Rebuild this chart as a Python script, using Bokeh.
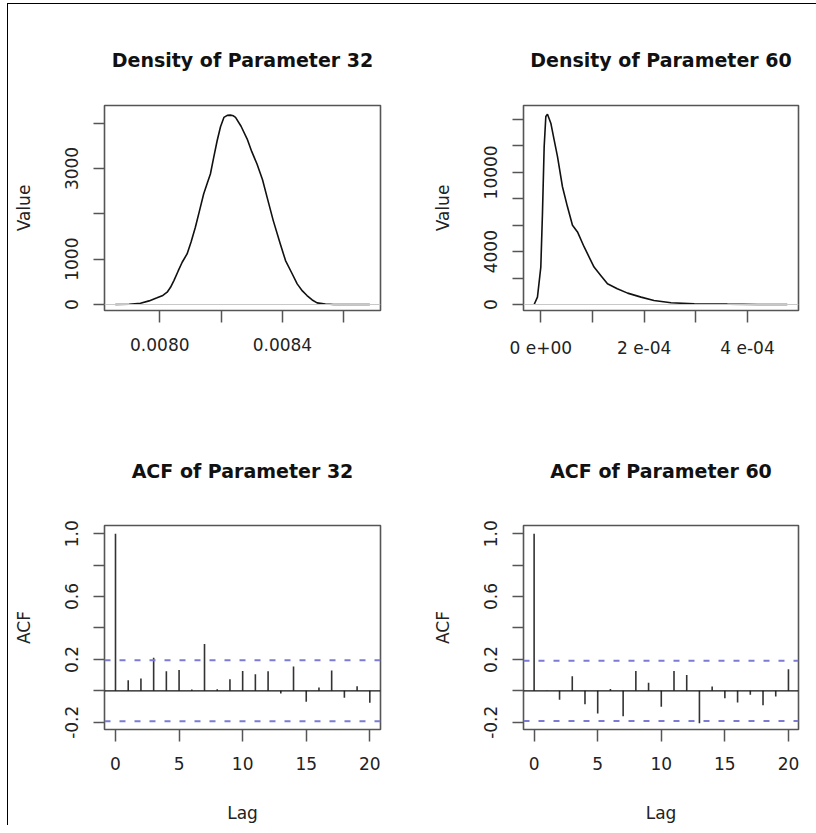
from bokeh.plotting import figure
from bokeh.models import FixedTicker, Span, Range1d
from bokeh.layouts import column, row
from bokeh.embed import file_html
from bokeh.resources import INLINE

# ---------------- data ----------------
dens32_x = [0.007855, 0.007900, 0.007937, 0.007965, 0.007991, 0.008010, 0.008024, 0.008035,
            0.008046, 0.008060, 0.008073, 0.008089, 0.008102, 0.008116, 0.008130, 0.008143,
            0.008155, 0.008165, 0.008176, 0.008187, 0.008198, 0.008209, 0.008220, 0.008230,
            0.008240, 0.008247, 0.008265, 0.008285, 0.008300, 0.008317, 0.008335, 0.008350,
            0.008370, 0.008393, 0.008410, 0.008430, 0.008448, 0.008465, 0.008480, 0.008497,
            0.008513, 0.008540, 0.008567, 0.008620, 0.008685]
dens32_y = [0, 5, 29, 80, 147, 200, 272, 380,
            528, 740, 932, 1116, 1380, 1703, 2080, 2437,
            2680, 2877, 3250, 3611, 3920, 4125, 4170, 4176,
            4160, 4125, 3930, 3648, 3370, 3097, 2750, 2363,
            1850, 1336, 969, 700, 455, 300, 198, 100,
            37, 10, 0, 0, 0]

dens60_x = [-1.29e-5, -6.5e-6, 0.0, 3.2e-6, 6.5e-6, 9.7e-6, 1.29e-5, 1.94e-5, 2.58e-5,
            3.23e-5, 4.19e-5, 5.16e-5, 6.13e-5, 7.10e-5, 8.39e-5, 1.03e-4, 1.16e-4,
            1.29e-4, 1.48e-4, 1.68e-4, 1.94e-4, 2.19e-4, 2.52e-4, 2.97e-4, 3.61e-4,
            4.2e-4, 4.77e-4]
dens60_y = [0, 557, 2835, 6886, 11949, 14228, 14405, 13722, 12456,
            11190, 8911, 7392, 6000, 5494, 4354, 2835, 2203,
            1570, 1190, 861, 557, 304, 127, 51, 25,
            5, 0]

lags = list(range(21))
acf32 = [1.0, 0.067, 0.078, 0.21, 0.124, 0.132, 0.008, 0.298, 0.010, 0.074, 0.126,
         0.105, 0.124, -0.017, 0.155, -0.069, 0.021, 0.130, -0.044, 0.029, -0.076]
acf60 = [1.0, 0.002, -0.057, 0.093, -0.085, -0.144, 0.011, -0.161, 0.127, 0.051, -0.101,
         0.127, 0.101, -0.207, 0.027, -0.047, -0.074, -0.025, -0.091, -0.036, 0.137]
clim32 = 0.194
clim60 = 0.192

titles = ["Density of Parameter 32", "Density of Parameter 60",
          "ACF of Parameter 32", "ACF of Parameter 60"]

d32_xticks = [0.0080, 0.0082, 0.0084, 0.0086]
d32_xlabels = {0.0080: "0.0080", 0.0082: "", 0.0084: "0.0084", 0.0086: ""}
d32_yticks = [0, 1000, 2000, 3000, 4000]
d32_ylabels = {0: "0", 1000: "1000", 2000: "", 3000: "3000", 4000: ""}
d60_xticks = [0.0, 1e-4, 2e-4, 3e-4, 4e-4]
d60_xlabels = {0.0: "0 e+00", 1e-4: "", 2e-4: "2 e-04", 3e-4: "", 4e-4: "4 e-04"}
d60_yticks = [0, 2000, 4000, 6000, 8000, 10000, 12000, 14000]
d60_ylabels = {0: "0", 2000: "", 4000: "4000", 6000: "", 8000: "", 10000: "10000",
               12000: "", 14000: ""}
acf_xticks = [0, 5, 10, 15, 20]
acf_yticks = [-0.2, 0.0, 0.2, 0.4, 0.6, 0.8, 1.0]
acf_ylabels = {-0.2: "-0.2", 0.0: "", 0.2: "0.2", 0.4: "", 0.6: "0.6", 0.8: "", 1.0: "1.0"}

FONT = "DejaVu Sans"
TXT = "#222222"
BOX = "#555555"


def make_fig(w, h, left, right, top, bottom, xr, yr, title, tstand):
    p = figure(width=w, height=h, output_backend="svg", toolbar_location=None,
               x_range=Range1d(*xr), y_range=Range1d(*yr),
               min_border_left=left, min_border_right=right,
               min_border_top=top, min_border_bottom=bottom)
    p.grid.visible = False
    p.outline_line_color = BOX
    p.outline_line_width = 1.6
    p.background_fill_color = "white"
    p.border_fill_color = "white"
    p.title.text = title
    p.title.text_font = FONT
    p.title.text_font_style = "bold"
    p.title.text_font_size = "19px"
    p.title.text_color = "#111111"
    p.title.align = "center"
    p.title.standoff = tstand
    for ax in (p.xaxis[0], p.yaxis[0]):
        ax.axis_line_color = None
        ax.major_tick_line_color = BOX
        ax.major_tick_line_width = 1.5
        ax.major_tick_in = 0
        ax.minor_tick_line_color = None
        ax.major_label_text_font = FONT
        ax.major_label_text_font_size = "17px"
        ax.major_label_text_color = TXT
        ax.axis_label_text_font = FONT
        ax.axis_label_text_font_size = "17px"
        ax.axis_label_text_font_style = "normal"
        ax.axis_label_text_color = TXT
    p.xaxis.axis_label_standoff = 30
    p.yaxis.axis_label_standoff = 29
    p.xaxis.major_tick_out = 12
    p.yaxis.major_tick_out = 11
    p.xaxis.major_label_standoff = 15
    p.yaxis.major_label_standoff = 15
    p.yaxis.major_label_orientation = "vertical"
    return p


# Density 32
p1 = make_fig(418, 410, 96, 46, 101, 104, (0.0078197, 0.0087197), (-132, 4388), titles[0], 69)
p1.add_layout(Span(location=0, dimension="width", line_color="#c8c8c8", line_width=1))
p1.line(dens32_x, dens32_y, line_color="#111111", line_width=1.6)
p1.xaxis.ticker = FixedTicker(ticks=d32_xticks)
p1.xaxis.major_label_overrides = d32_xlabels
p1.yaxis.ticker = FixedTicker(ticks=d32_yticks)
p1.yaxis.major_label_overrides = d32_ylabels
p1.yaxis.axis_label = "Value"

# Density 60
p2 = make_fig(382, 410, 97, 10, 101, 104, (-3.35e-5, 4.987e-4), (-454, 15060), titles[1], 69)
p2.add_layout(Span(location=0, dimension="width", line_color="#c8c8c8", line_width=1))
p2.line(dens60_x, dens60_y, line_color="#111111", line_width=1.6)
p2.xaxis.ticker = FixedTicker(ticks=d60_xticks)
p2.xaxis.major_label_overrides = d60_xlabels
p2.yaxis.ticker = FixedTicker(ticks=d60_yticks)
p2.yaxis.major_label_overrides = d60_ylabels
p2.yaxis.axis_label = "Value"


def acf_panel(w, left, right, xr, vals, clim, title):
    p = make_fig(w, 411, left, right, 110, 95, xr, (-0.246, 1.052), title, 87)
    p.add_layout(Span(location=0, dimension="width", line_color="#111111", line_width=1.3))
    for c in (clim, -clim):
        p.add_layout(Span(location=c, dimension="width", line_color="#7b7bd6",
                          line_width=2, line_dash="6 9"))
    p.segment(x0=lags, y0=[0] * len(lags), x1=lags, y1=vals,
              line_color="#333333", line_width=1.6)
    p.xaxis.ticker = FixedTicker(ticks=acf_xticks)
    p.yaxis.ticker = FixedTicker(ticks=acf_yticks)
    p.yaxis.major_label_overrides = acf_ylabels
    p.xaxis.axis_label = "Lag"
    p.yaxis.axis_label = "ACF"
    return p


p3 = acf_panel(418, 96, 46, (-0.865, 20.84), acf32, clim32, titles[2])
p4 = acf_panel(382, 97, 10, (-0.835, 20.79), acf60, clim60, titles[3])

layout = column(row(p1, p2), row(p3, p4), margin=(3, 0, 0, 7),
                styles={"border-left": "1px solid #000", "border-top": "1px solid #000",
                        "padding-right": "8px"})

open("out.html", "w").write(file_html(layout, INLINE))
